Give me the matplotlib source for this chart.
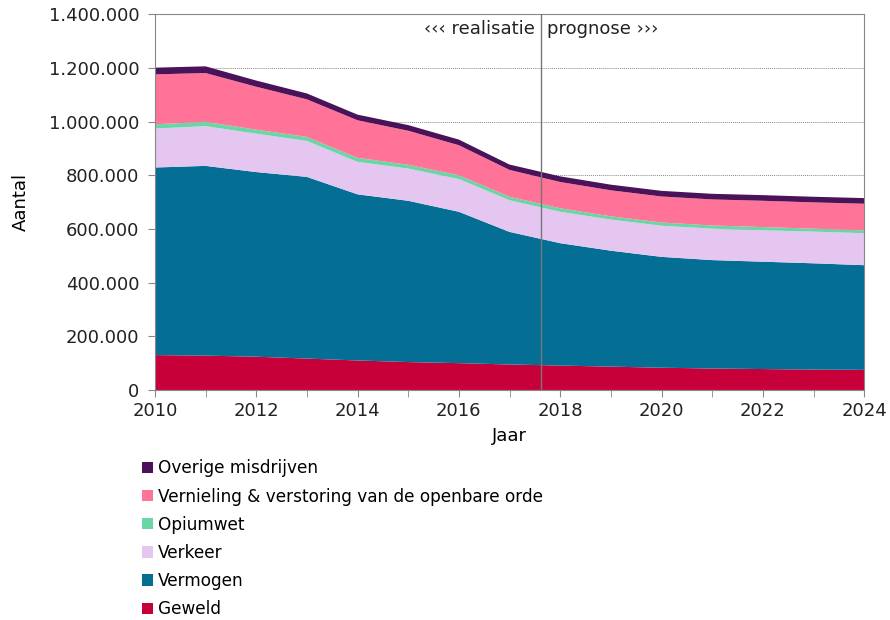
import matplotlib
matplotlib.use("Agg")
import matplotlib.pyplot as plt
from matplotlib.ticker import FuncFormatter, MultipleLocator
from matplotlib.patches import Patch

years = list(range(2010, 2025))

# values in thousands
geweld = [130, 128, 124, 117, 110, 104, 100, 95, 91, 87, 83, 80, 78, 76, 75]
vermogen = [699, 707, 688, 677, 619, 601, 564, 494, 456, 432, 413, 404, 400, 396, 390]
verkeer = [145, 148, 143, 134, 121, 120, 122, 118, 117, 116, 116, 117, 117, 118, 119]
opiumwet = [16, 16, 15, 15, 15, 14, 14, 13, 13, 12, 12, 12, 12, 11, 11]
vernieling = [186, 182, 160, 140, 140, 127, 112, 100, 98, 97, 97, 97, 98, 98, 99]
overige = [25, 25, 23, 22, 21, 21, 21, 20, 21, 21, 21, 21, 21, 21, 21]

labels = ['Geweld', 'Vermogen', 'Verkeer', 'Opiumwet',
          'Vernieling & verstoring van de openbare orde', 'Overige misdrijven']
colors = ['#C8003A', '#046E94', '#E4C6F0', '#6AD6A6', '#FF7399', '#4A1259']
split_year = 2017.62

series = [geweld, vermogen, verkeer, opiumwet, vernieling, overige]
series = [[v * 1000 for v in s] for s in series]

plt.rcParams['font.family'] = ['DejaVu Sans']
fig = plt.figure(figsize=(8.9, 6.2), dpi=100)
ax = fig.add_axes([0.174, 0.371, 0.797, 0.606])

ax.set_axisbelow(True)
ax.stackplot(years, *series, colors=colors, linewidth=0)
ax.set_xlim(2010, 2024)
ax.set_ylim(0, 1400000)
ax.yaxis.set_major_locator(MultipleLocator(200000))
ax.xaxis.set_major_locator(MultipleLocator(2))
ax.xaxis.set_minor_locator(MultipleLocator(1))
ax.yaxis.set_major_formatter(FuncFormatter(lambda v, p: f'{int(v):,}'.replace(',', '.')))
ax.grid(axis='y', color='#888888', linestyle=(0, (1, 1)), linewidth=0.7)

for sp in ax.spines.values():
    sp.set_color('#888888')
ax.tick_params(axis='both', which='both', colors='#888888', labelcolor='#222222',
               labelsize=13, length=5)
ax.tick_params(axis='y', pad=6)
ax.tick_params(axis='x', pad=4)

ax.axvline(split_year, color='#777777', linewidth=1.0, zorder=3)
ax.text(split_year - 0.12, 1345000, '‹‹‹ realisatie', ha='right', va='center',
        fontsize=13, color='#222222')
ax.text(split_year + 0.12, 1345000, 'prognose ›››', ha='left', va='center',
        fontsize=13, color='#222222')

ax.set_xlabel('Jaar', fontsize=13, labelpad=5)
ax.set_ylabel('Aantal', fontsize=13, labelpad=14)

handles = [Patch(facecolor=c, edgecolor='none') for c in colors][::-1]
fig.legend(handles, labels[::-1], loc='upper left', bbox_to_anchor=(0.152, 0.27),
           frameon=False, fontsize=12.2, handlelength=0.65, handleheight=0.65,
           handletextpad=0.3, labelspacing=0.6, borderaxespad=0)

fig.savefig('out.png', dpi=100)
